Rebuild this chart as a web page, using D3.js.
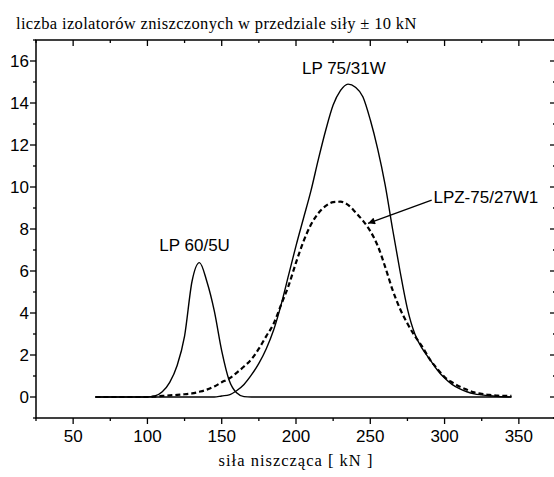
<!DOCTYPE html>
<html>
<head>
<meta charset="utf-8">
<script src="https://cdn.jsdelivr.net/npm/d3@7"></script>
<style>
  html, body { margin: 0; padding: 0; background: #fff; }
  svg { display: block; }
  .sans { font-family: "Liberation Sans", Arial, sans-serif; }
  .serif { font-family: "Liberation Serif", "Times New Roman", serif; }
</style>
</head>
<body>
<svg id="chart" width="554" height="477"></svg>
<script>
// Breaking force of the insulators, kN (sampled every 5 kN)
const force = d3.range(65, 350, 5);

// Number of insulators destroyed within a ±10 kN band
const lp60 = [
  0, 0, 0, 0, 0, 0, 0, 0,            // 65–100
  0.05, 0.25, 0.7, 1.5, 2.9, 5.5, 6.4, 5.5, 4.1, 2.2, 0.8, 0.2, 0.02, // 105–165
  0, 0, 0, 0, 0, 0, 0, 0, 0, 0, 0, 0, 0, 0, 0, 0, 0, 0, 0, 0, 0, 0, 0, 0, 0, 0, 0, 0, 0, 0, 0, 0, 0, 0, 0, 0 // 170–345
];
const lp75 = [
  0, 0, 0, 0, 0, 0, 0, 0, 0, 0, 0, 0, 0, 0, 0, 0, 0, // 65–145
  0.05, 0.1, 0.3, 0.6, 1.05, 1.6, 2.3, 3.2, 4.4, 5.8, 7.2, 8.5, 9.8, 11.3, 12.7, 13.9, 14.6, 14.9, // 150–235
  14.75, 14.3, 13.2, 11.8, 10.1, 8.0, 6.0, 4.2, 3.0, 2.3, 1.8, 1.3, 0.9, 0.6, 0.4, 0.25, 0.15, 0.1, 0.06, 0.03, 0.01, 0 // 240–345
];
const lpz75 = [
  0, 0, 0, 0, 0, 0, 0, 0,            // 65–100
  0.02, 0.05, 0.08, 0.1, 0.13, 0.17, 0.25, 0.35, 0.5, 0.7, 0.88, 1.15, 1.45, 1.8, 2.3, 2.9, 3.5, 4.4, 5.3, // 105–195
  6.4, 7.4, 8.2, 8.75, 9.1, 9.28, 9.3, 9.15, 8.8, 8.4, 7.9, 7.2, 6.2, 5.1, 4.2, 3.5, 2.9, 2.4, 1.8, // 200–290
  1.35, 0.95, 0.7, 0.5, 0.35, 0.22, 0.15, 0.1, 0.07, 0.05, 0.05 // 295–345
];

const xTicks = [50, 100, 150, 200, 250, 300, 350];
const yTicks = [0, 2, 4, 6, 8, 10, 12, 14, 16];

const titleText = "liczba izolatorów zniszczonych w przedziale siły ± 10 kN";
const xTitleText = "siła niszcząca [ kN ]";

// Curve labels, placed in data units
const curveLabels = [
  { text: "LP 75/31W", x: 204, y: 15.4 },
  { text: "LP 60/5U",  x: 108, y: 6.95 },
  { text: "LPZ-75/27W1", x: 292.5, y: 9.25 }
];
const arrow = { from: [291.3, 9.38], to: [248.5, 8.27] };

const svg = d3.select("#chart");
const x = d3.scaleLinear().domain([25, 375]).range([36, 556]);
const y = d3.scaleLinear().domain([-1, 17]).range([418, 40]);

const frame = svg.append("g");

const xMinor = d3.range(25, 376, 25);
const yMinor = d3.range(-1, 18, 1);

function ticks(g, values, isMajor, pos) {
  g.selectAll(null).data(values).join("line")
    .attr("stroke", "#000").attr("stroke-width", 1.3)
    .each(function (v) {
      pos(d3.select(this), v, isMajor(v) ? 6 : 3);
    });
}
const isMajorX = v => v % 50 === 0;
const isMajorY = v => v % 2 === 0;

const tg = frame.append("g");
// bottom: outward
ticks(tg, xMinor, isMajorX, (s, v, l) => s.attr("x1", x(v)).attr("x2", x(v)).attr("y1", y(-1)).attr("y2", y(-1) + l));
// top: inward
ticks(tg, xMinor, isMajorX, (s, v, l) => s.attr("x1", x(v)).attr("x2", x(v)).attr("y1", y(17)).attr("y2", y(17) + l));
// left: outward
ticks(tg, yMinor, isMajorY, (s, v, l) => s.attr("y1", y(v)).attr("y2", y(v)).attr("x1", x(25)).attr("x2", x(25) - l));
// right: inward
ticks(tg, yMinor, isMajorY, (s, v, l) => s.attr("y1", y(v)).attr("y2", y(v)).attr("x1", x(375)).attr("x2", x(375) - l));

// frame box
frame.append("rect")
  .attr("x", x(25)).attr("y", y(17))
  .attr("width", x(375) - x(25)).attr("height", y(-1) - y(17))
  .attr("fill", "none").attr("stroke", "#000").attr("stroke-width", 1.5);

// tick labels
frame.append("g").selectAll("text").data(xTicks).join("text")
  .attr("class", "sans")
  .attr("x", d => x(d)).attr("y", 442)
  .attr("text-anchor", "middle").attr("font-size", 17)
  .text(d => d);
frame.append("g").selectAll("text").data(yTicks).join("text")
  .attr("class", "sans")
  .attr("x", 29).attr("y", d => y(d) + 6)
  .attr("text-anchor", "end").attr("font-size", 17)
  .text(d => d);

// titles
svg.append("text").attr("class", "serif")
  .attr("x", 16).attr("y", 29).attr("font-size", 16.5)
  .attr("letter-spacing", 0.35)
  .text(titleText);
svg.append("text").attr("class", "serif")
  .attr("x", x(200)).attr("y", 466)
  .attr("text-anchor", "middle").attr("font-size", 16.5)
  .attr("letter-spacing", 1)
  .text(xTitleText);

// curves
const line = d3.line().x((d, i) => x(force[i])).y(d => y(d)).curve(d3.curveMonotoneX);
const plot = svg.append("g");
plot.append("path").datum(lp60).attr("d", line)
  .attr("fill", "none").attr("stroke", "#000").attr("stroke-width", 1.4);
plot.append("path").datum(lp75).attr("d", line)
  .attr("fill", "none").attr("stroke", "#000").attr("stroke-width", 1.4);
plot.append("path").datum(lpz75).attr("d", line)
  .attr("fill", "none").attr("stroke", "#000").attr("stroke-width", 2.2)
  .attr("stroke-dasharray", "5,3");

// labels
plot.selectAll("text.lbl").data(curveLabels).join("text")
  .attr("class", "sans lbl")
  .attr("x", d => x(d.x)).attr("y", d => y(d.y))
  .attr("font-size", 17)
  .text(d => d.text);

// arrow pointing at the dashed curve
const defs = svg.append("defs");
defs.append("marker").attr("id", "head")
  .attr("viewBox", "0 0 10 10").attr("refX", 10).attr("refY", 5)
  .attr("markerWidth", 9).attr("markerHeight", 7)
  .attr("markerUnits", "userSpaceOnUse").attr("orient", "auto")
  .append("path").attr("d", "M0,0L10,5L0,10Z").attr("fill", "#000");
plot.append("line")
  .attr("x1", x(arrow.from[0])).attr("y1", y(arrow.from[1]))
  .attr("x2", x(arrow.to[0])).attr("y2", y(arrow.to[1]))
  .attr("stroke", "#000").attr("stroke-width", 1.3)
  .attr("marker-end", "url(#head)");
</script>
</body>
</html>
